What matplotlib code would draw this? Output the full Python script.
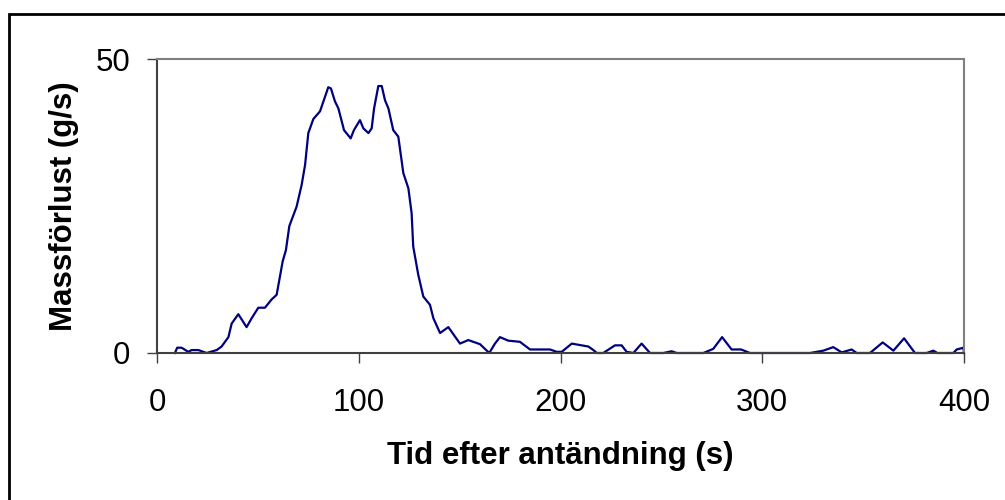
import numpy as np
import matplotlib.pyplot as plt
from matplotlib.patches import Rectangle

plt.rcParams['font.family'] = ['Liberation Sans', 'DejaVu Sans']

# Mass loss rate vs time after ignition
tid = [8.9, 10, 12.2, 15.5, 17.2, 20.5, 24.6, 29.6, 32, 35.4, 37, 40.3, 44.4, 46.9,
       50.2, 53.5, 56.8, 59.3, 62.3, 63.9, 65.6, 69.2, 71.7, 73.4, 75, 77.5, 80.8,
       84.9, 86.2, 88.2, 89.9, 92.7, 96, 97.6, 100.6, 102.3, 104.8, 106.4, 107.6,
       109.7, 111.4, 113, 114.7, 117.1, 119.6, 122.1, 124.6, 126.2, 127, 129.5, 132,
       135.3, 137, 140.3, 144.4, 147.7, 150.2, 154.3, 160.1, 164.7, 167.5, 170,
       174.1, 179.9, 184.9, 194.8, 198.1, 200.6, 205.6, 210.5, 213.8, 216.3, 218,
       221.2, 227, 230.3, 232.8, 236.1, 240.2, 244.4, 251, 255.1, 257.6, 265.8,
       270.8, 275.7, 280.1, 284.8, 289.5, 293.9, 323.7, 330.3, 335.2, 339.4, 344.3,
       346.8, 353.4, 359.7, 365, 370.3, 375.7, 381.5, 384.8, 386.8, 394.7, 396.4,
       399.7, 400]
massforlust = [0, 0.9, 0.9, 0.2, 0.5, 0.5, 0, 0.5, 1.1, 2.7, 5.0, 6.6, 4.4, 5.9,
               7.7, 7.7, 9.1, 9.9, 15.6, 17.5, 21.6, 24.9, 28.6, 32, 37.4, 39.8, 41.1,
               45.2, 45, 42.8, 41.6, 37.9, 36.5, 37.9, 39.6, 38.2, 37.4, 38.2, 41.6,
               45.4, 45.4, 43.0, 41.6, 37.9, 36.8, 30.6, 28.0, 23.8, 18.1, 13.3, 9.6,
               8.2, 5.9, 3.4, 4.4, 2.8, 1.6, 2.2, 1.5, 0, 1.6, 2.7,
               2.1, 1.9, 0.6, 0.6, 0.2, 0.2, 1.6, 1.3, 1.1, 0.5, 0,
               0, 1.3, 1.3, 0.2, 0, 1.6, 0, 0, 0.3, 0, 0,
               0, 0.7, 2.7, 0.6, 0.6, 0, 0, 0.4, 1.0, 0.1, 0.6,
               0, 0, 1.8, 0.4, 2.5, 0, 0, 0.4, 0, 0, 0.6,
               0.9, 0]

xticks = [0, 100, 200, 300, 400]
yticks = [0, 50]

fig = plt.figure(figsize=(10.05, 5), dpi=100)
ax = fig.add_axes([157/1005, 147/500, 807/1005, 294/500])

ax.plot(tid, massforlust, color='#000080', lw=1.6, clip_on=False)

ax.set_xlim(0, 400)
ax.set_ylim(0, 50)
ax.set_xticks(xticks)
ax.set_yticks(yticks)
ax.tick_params(axis='both', labelsize=22.5, direction='out', length=7, width=1,
               color='#404040')
ax.tick_params(axis='x', pad=18)
ax.tick_params(axis='y', pad=12)

for side in ['left', 'bottom']:
    ax.spines[side].set_color('#404040')
    ax.spines[side].set_linewidth(1.5)
for side in ['top', 'right']:
    ax.spines[side].set_color('#808080')
    ax.spines[side].set_linewidth(1.5)

ax.set_xlabel('Tid efter antändning (s)', fontsize=22.5, fontweight='bold', labelpad=17)
ax.set_ylabel('Massförlust (g/s)', fontsize=22.5, fontweight='bold', labelpad=12)

# outer chart frame
fig.patches.append(Rectangle((9/1005, -0.02), 1.05, 1 - 13.5/500 + 0.02,
                             transform=fig.transFigure, fill=False,
                             edgecolor='black', lw=2))

fig.savefig('out.png', dpi=100)
